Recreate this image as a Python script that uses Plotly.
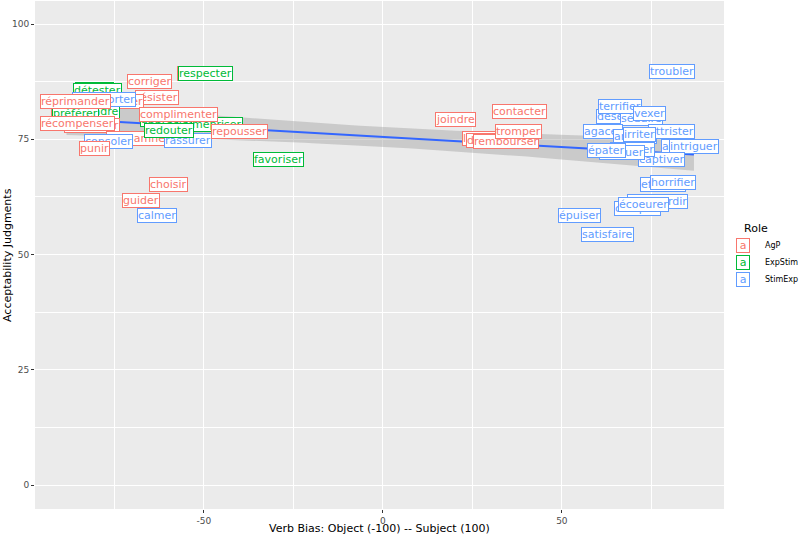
import numpy as np
import plotly.graph_objects as go

# ---- data (draw order) ----
verbs = ["insulter", "résister", "féliciter", "corriger", "adorer", "détester", "aider",
         "craindre", "préférer", "réconforter", "réprimander", "remercier", "récompenser",
         "condamner", "consoler", "punir", "rassurer", "apprécier", "mépriser",
         "complimenter", "redouter", "repousser", "respecter", "favoriser",
         "choisir", "guider", "calmer",
         "libérer", "défendre", "rembourser", "tromper", "joindre", "contacter",
         "troubler", "désespérer", "séduire", "terrifier", "vexer",
         "agacer", "amuser", "attrister", "irriter", "affliger", "intriguer",
         "captiver", "énerver", "fatiguer", "épater",
         "effrayer", "horrifier", "abasourdir", "choquer", "écoeurer", "épuiser", "satisfaire"]
roles = ["AgP", "AgP", "AgP", "AgP", "ExpStim", "ExpStim", "AgP",
         "ExpStim", "ExpStim", "StimExp", "AgP", "AgP", "AgP",
         "AgP", "StimExp", "AgP", "StimExp", "ExpStim", "ExpStim",
         "AgP", "ExpStim", "AgP", "ExpStim", "ExpStim",
         "AgP", "AgP", "StimExp",
         "AgP", "AgP", "AgP", "AgP", "AgP", "AgP",
         "StimExp", "StimExp", "StimExp", "StimExp", "StimExp",
         "StimExp", "StimExp", "StimExp", "StimExp", "StimExp", "StimExp",
         "StimExp", "StimExp", "StimExp", "StimExp",
         "StimExp", "StimExp", "StimExp", "StimExp", "StimExp", "StimExp", "StimExp"]
bias = [-51.4, -63.1, -72.9, -65.1, -80.7, -79.6, -88.4,
        -80.2, -85.8, -77.9, -86.0, -81.3, -85.3,
        -68.4, -76.8, -80.7, -54.5, -60.1, -46.4,
        -57.0, -59.8, -40.0, -49.7, -29.2,
        -59.8, -67.7, -63.0,
        27.4, 30.4, 34.4, 38.0, 20.3, 38.3,
        80.7, 68.4, 72.3, 66.2, 74.6,
        61.5, 70.4, 80.7, 71.8, 83.5, 86.9,
        77.9, 69.8, 66.8, 62.6,
        78.2, 81.0, 76.8, 71.2, 72.9, 55.0, 62.8]
accept = [89.2, 84.1, 83.3, 87.5, 85.9, 85.5, 80.9,
          81.1, 80.7, 83.7, 83.1, 77.9, 78.4,
          75.1, 74.6, 72.9, 74.7, 79.2, 78.3,
          80.4, 77.0, 76.6, 89.2, 70.6,
          65.3, 61.8, 58.4,
          75.1, 74.8, 74.6, 76.6, 79.3, 81.0,
          89.8, 80.0, 79.6, 82.2, 80.7,
          76.6, 75.7, 76.8, 76.0, 73.4, 73.5,
          70.7, 72.7, 72.2, 72.6,
          65.1, 65.6, 61.4, 59.9, 60.8, 58.4, 54.3]

role_names = ["AgP", "ExpStim", "StimExp"]
role_colors = {"AgP": "#F8766D", "ExpStim": "#00BA38", "StimExp": "#619CFF"}

x_ticks = [-50, 0, 50]
y_ticks = [0, 25, 50, 75, 100]

# ---- linear fit with 95% CI (geom_smooth(method="lm")) ----
x = np.array(bias)
y = np.array(accept)
n = len(x)
b1, b0 = np.polyfit(x, y, 1)
resid = y - (b0 + b1 * x)
s = np.sqrt(np.sum(resid ** 2) / (n - 2))
sxx = np.sum((x - x.mean()) ** 2)
xs = np.linspace(x.min(), x.max(), 80)
fit = b0 + b1 * xs
se = s * np.sqrt(1.0 / n + (xs - x.mean()) ** 2 / sxx)
tq = 2.006
lo, hi = fit - tq * se, fit + tq * se

fig = go.Figure()
fig.add_trace(go.Scatter(x=np.concatenate([xs, xs[::-1]]), y=np.concatenate([hi, lo[::-1]]),
                         fill="toself", fillcolor="rgba(153,153,153,0.4)", line=dict(width=0),
                         mode="lines", hoverinfo="skip", showlegend=False))
fig.add_trace(go.Scatter(x=xs, y=fit, mode="lines", line=dict(color="#3366FF", width=2),
                         hoverinfo="skip", showlegend=False))

annotations = []
for v, r, bx, ay in zip(verbs, roles, bias, accept):
    annotations.append(dict(x=bx, y=ay, xref="x", yref="y", text=v, showarrow=False,
                            font=dict(family="DejaVu Sans", size=11, color=role_colors[r]),
                            bgcolor="white", bordercolor=role_colors[r], borderwidth=1,
                            borderpad=0))

# axis titles
annotations.append(dict(x=0.5, y=-0.0, xref="paper", yref="paper", yshift=-19,
                        text="Verb Bias: Object (-100) -- Subject (100)", showarrow=False,
                        font=dict(family="DejaVu Sans", size=11, color="black"), yanchor="middle"))
annotations.append(dict(x=0, y=0.5, xref="paper", yref="paper", xshift=-28,
                        text="Acceptability Judgments", showarrow=False, textangle=-90,
                        font=dict(family="DejaVu Sans", size=11, color="black"), xanchor="center"))

# legend
W0, W1, H0, H1 = 35, 724, 1, 509
def px(xp):
    return (xp - W0) / (W1 - W0)
def py(yp):
    return (H1 - yp) / (H1 - H0)
annotations.append(dict(x=px(742), y=py(228), xref="paper", yref="paper", text="Role",
                        showarrow=False, xanchor="left",
                        font=dict(family="DejaVu Sans", size=11, color="black")))
for i, rn in enumerate(role_names):
    yc = 245 + i * 17
    annotations.append(dict(x=px(750), y=py(yc), xref="paper", yref="paper", text="a",
                            showarrow=False, width=12, height=13,
                            font=dict(family="DejaVu Sans", size=11, color=role_colors[rn]),
                            bgcolor="white", bordercolor=role_colors[rn], borderwidth=1, borderpad=0))
    annotations.append(dict(x=px(763), y=py(yc), xref="paper", yref="paper", text=rn,
                            showarrow=False, xanchor="left",
                            font=dict(family="DejaVu Sans", size=8, color="black")))

fig.update_layout(
    width=800, height=535,
    margin=dict(l=W0, r=800 - W1, t=H0, b=535 - H1),
    paper_bgcolor="white", plot_bgcolor="#EBEBEB",
    showlegend=False,
    annotations=annotations,
    xaxis=dict(range=[-97.2, 95.3], tickvals=x_ticks, ticktext=[str(t) for t in x_ticks],
               showgrid=True, gridcolor="white", gridwidth=1.2, zeroline=False,
               ticks="outside", ticklen=3, tickcolor="#333333",
               tickfont=dict(family="DejaVu Sans", size=9, color="#4D4D4D"),
               minor=dict(tickvals=[-75, -25, 25, 75], showgrid=True, gridcolor="white",
                          gridwidth=0.6, ticks=""),
               fixedrange=True),
    yaxis=dict(range=[-5.2, 105], tickvals=y_ticks, ticktext=[str(t) for t in y_ticks],
               showgrid=True, gridcolor="white", gridwidth=1.2, zeroline=False,
               ticks="outside", ticklen=3, tickcolor="#333333",
               tickfont=dict(family="DejaVu Sans", size=9, color="#4D4D4D"),
               minor=dict(tickvals=[12.5, 37.5, 62.5, 87.5], showgrid=True, gridcolor="white",
                          gridwidth=0.6, ticks=""),
               fixedrange=True),
)

fig.write_html("out.html")
